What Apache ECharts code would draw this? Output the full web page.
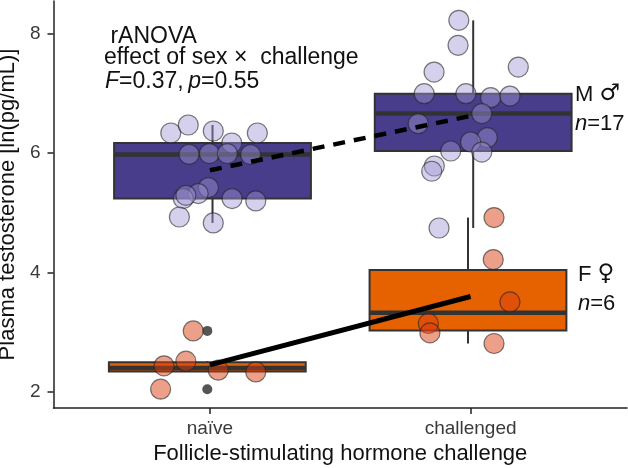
<!DOCTYPE html>
<html>
<head>
<meta charset="utf-8">
<script src="https://cdn.jsdelivr.net/npm/echarts@6/dist/echarts.min.js"></script>
<style>
  html, body { margin: 0; padding: 0; background: #fff; }
  #chart { width: 628px; height: 468px; }
</style>
</head>
<body>
<div id="chart"></div>
<script>
var categories = ['naïve', 'challenged'];
var xTicks = [1, 2];
var yTicks = [2, 4, 6, 8];

// [group, lower whisker, Q1, median, Q3, upper whisker]
var maleBoxes = [
  [1, 4.826, 5.234, 5.970, 6.164, 6.465],
  [2, 4.742, 6.030, 6.656, 6.990, 8.216]
];
var femaleBoxes = [
  [1, 2.334, 2.341, 2.399, 2.494, 2.513],
  [2, 2.809, 3.026, 3.325, 4.037, 4.916]
];
var femaleOutliers = [[1, 3.020], [1, 2.045]];

// jittered points [x, y]
var malePoints = [
  [0.850, 6.331], [0.917, 6.465], [1.013, 6.365], [1.182, 6.331], [1.084, 6.164],
  [0.920, 5.975], [0.998, 5.987], [1.067, 5.987], [1.156, 5.970], [0.994, 5.418],
  [0.955, 5.318], [0.898, 5.234], [0.908, 5.289], [1.085, 5.234], [1.176, 5.194],
  [0.883, 4.926], [1.013, 4.826],
  [1.955, 8.216], [1.952, 7.798], [1.860, 7.351], [2.183, 7.435], [1.822, 6.990],
  [1.982, 6.990], [2.077, 6.923], [2.151, 6.950], [2.043, 6.656], [1.799, 6.488],
  [2.064, 6.254], [2.000, 6.181], [1.924, 6.030], [2.043, 6.013], [1.861, 5.779],
  [1.851, 5.691], [1.879, 4.742]
];
var femalePoints = [
  [0.936, 3.020], [0.908, 2.513], [0.824, 2.435], [1.032, 2.363], [1.176, 2.334], [0.811, 2.045],
  [2.090, 4.916], [2.087, 4.214], [2.151, 3.505], [1.838, 3.144], [1.844, 2.987], [2.090, 2.809]
];
var maleMeans = [[1, 5.707], [2, 6.617]];
var femaleMeans = [[1, 2.452], [2, 3.596]];

var FONT = 'Liberation Sans';
var BOX_W = 0.755;

function boxRenderer(fill, dodge) {
  return function (params, api) {
    var x = api.value(0) + dodge;
    var lo = api.coord([x, api.value(1)]);
    var q1 = api.coord([x, api.value(2)]);
    var md = api.coord([x, api.value(3)]);
    var q3 = api.coord([x, api.value(4)]);
    var hi = api.coord([x, api.value(5)]);
    var half = api.size([BOX_W, 0])[0] / 2;
    var ink = '#333333';
    return {
      type: 'group',
      children: [
        { type: 'line', shape: { x1: lo[0], y1: lo[1], x2: q1[0], y2: q1[1] }, style: { stroke: ink, lineWidth: 2 } },
        { type: 'line', shape: { x1: q3[0], y1: q3[1], x2: hi[0], y2: hi[1] }, style: { stroke: ink, lineWidth: 2 } },
        { type: 'rect', shape: { x: q3[0] - half, y: q3[1], width: half * 2, height: q1[1] - q3[1] },
          style: { fill: fill, stroke: ink, lineWidth: 2 } },
        { type: 'line', shape: { x1: md[0] - half, y1: md[1], x2: md[0] + half, y2: md[1] },
          style: { stroke: ink, lineWidth: 4.5 } }
      ]
    };
  };
}

var italic = { fontStyle: 'italic', fontFamily: FONT, fill: '#111' };
var symbolStyle = { fontFamily: 'DejaVu Sans', fill: '#111' };

var chart = echarts.init(document.getElementById('chart'));
var option = {
  animation: false,
  backgroundColor: '#fff',
  textStyle: { fontFamily: FONT },
  grid: { left: 53.5, right: 1, top: 1, bottom: 60, containLabel: false, outerBoundsMode: 'none' },
  xAxis: {
    type: 'value',
    min: 0.4,
    max: 2.6,
    name: 'Follicle-stimulating hormone challenge',
    nameLocation: 'middle',
    nameGap: 35,
    nameTextStyle: { fontSize: 22, color: '#111', fontFamily: FONT },
    axisLine: { show: true, lineStyle: { color: '#222', width: 1.5 } },
    axisTick: { show: true, customValues: xTicks, length: 6, lineStyle: { color: '#222', width: 1.5 } },
    axisLabel: {
      customValues: xTicks, fontSize: 19, color: '#3a3a3a', margin: 11, fontFamily: FONT,
      formatter: function (v) { return categories[Math.round(v) - 1]; }
    },
    splitLine: { show: false }
  },
  yAxis: {
    type: 'value',
    min: 1.73,
    max: 8.54,
    name: 'Plasma testosterone [ln(pg/mL)]',
    nameLocation: 'middle',
    nameGap: 27,
    nameTextStyle: { fontSize: 22, color: '#111', fontFamily: FONT },
    axisLine: { show: true, lineStyle: { color: '#222', width: 1.5 } },
    axisTick: { show: true, customValues: yTicks, length: 6, lineStyle: { color: '#222', width: 1.5 } },
    axisLabel: { customValues: yTicks, fontSize: 19, color: '#3a3a3a', margin: 13, fontFamily: FONT },
    splitLine: { show: false }
  },
  series: [
    {
      type: 'custom', name: 'M box', renderItem: boxRenderer('#483D8B', 0.01),
      encode: { x: 0, y: [1, 2, 3, 4, 5] }, data: maleBoxes, z: 1
    },
    {
      type: 'custom', name: 'F box', renderItem: boxRenderer('#E66100', -0.01),
      encode: { x: 0, y: [1, 2, 3, 4, 5] }, data: femaleBoxes, z: 1
    },
    {
      type: 'scatter', name: 'F outliers', data: femaleOutliers.map(function (d) { return [d[0] - 0.01, d[1]]; }),
      symbolSize: 10, itemStyle: { color: '#2b2b2b' }, z: 2
    },
    {
      type: 'scatter', name: 'M', data: malePoints, symbolSize: 20,
      itemStyle: { color: 'rgba(160,150,212,0.55)', borderColor: 'rgba(35,35,35,0.75)', borderWidth: 1.2 }, z: 3
    },
    {
      type: 'scatter', name: 'F', data: femalePoints, symbolSize: 20,
      itemStyle: { color: 'rgba(217,63,17,0.62)', borderColor: 'rgba(35,35,35,0.75)', borderWidth: 1.2 }, z: 3
    },
    {
      type: 'line', name: 'M mean', data: maleMeans, symbol: 'none',
      lineStyle: { color: '#000', width: 4.5, type: [12, 9] }, z: 4
    },
    {
      type: 'line', name: 'F mean', data: femaleMeans, symbol: 'none',
      lineStyle: { color: '#000', width: 5 }, z: 4
    }
  ],
  graphic: [
    { type: 'text', x: 104, y: 36.5, style: { text: ' rANOVA', fontSize: 23, fontFamily: FONT, fill: '#111', verticalAlign: 'middle' } },
    { type: 'text', x: 104, y: 57.8, style: { text: 'effect of sex \u00d7  challenge', fontSize: 23, fontFamily: FONT, fill: '#111', verticalAlign: 'middle' } },
    { type: 'text', x: 105, y: 81.2, style: {
        text: '{i|F}=0.37,\u2009{i|p}=0.55', fontSize: 23, fontFamily: FONT, fill: '#111', verticalAlign: 'middle',
        rich: { i: Object.assign({ fontSize: 23 }, italic) }
    } },
    { type: 'text', x: 575, y: 94.5, style: {
        text: 'M {s|\u2642}', fontSize: 22, fontFamily: FONT, fill: '#111', verticalAlign: 'middle',
        rich: { s: Object.assign({ fontSize: 23 }, symbolStyle) }
    } },
    { type: 'text', x: 575, y: 124, style: {
        text: '{i|n}=17', fontSize: 22, fontFamily: FONT, fill: '#111', verticalAlign: 'middle',
        rich: { i: Object.assign({ fontSize: 22 }, italic) }
    } },
    { type: 'text', x: 578, y: 274.5, style: {
        text: 'F {s|\u2640}', fontSize: 22, fontFamily: FONT, fill: '#111', verticalAlign: 'middle',
        rich: { s: Object.assign({ fontSize: 23 }, symbolStyle) }
    } },
    { type: 'text', x: 578, y: 303.5, style: {
        text: '{i|n}=6', fontSize: 22, fontFamily: FONT, fill: '#111', verticalAlign: 'middle',
        rich: { i: Object.assign({ fontSize: 22 }, italic) }
    } }
  ]
};
chart.setOption(option);
</script>
</body>
</html>
